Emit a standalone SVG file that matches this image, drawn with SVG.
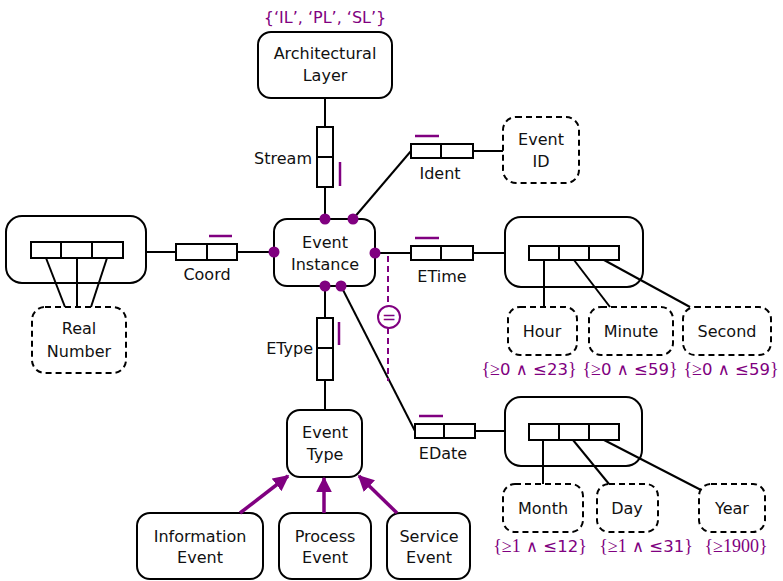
<svg xmlns="http://www.w3.org/2000/svg" width="783" height="581" viewBox="0 0 783 581">
  <style>
    text { font-family: "DejaVu Sans", Verdana, sans-serif; font-size: 16px; fill: #111; text-anchor: middle; }
    .cons { fill: #800080; font-size: 16px; }
    .rng { fill: #800080; font-size: 16.5px; }
    .serif { font-family: "Liberation Serif", serif; font-size: 18px; }
    .ent { fill: #fff; stroke: #000; stroke-width: 2; }
    .val { fill: #fff; stroke: #000; stroke-width: 2; stroke-dasharray: 6 4; }
    .role { fill: #fff; stroke: #000; stroke-width: 2; }
    .ln { stroke: #000; stroke-width: 2; fill: none; }
    .uc { stroke: #800080; stroke-width: 2.5; }
    .dot { fill: #800080; }
    .sub { stroke: #800080; stroke-width: 3.5; fill: none; }
  </style>
  <defs>
    <marker id="subArrow" viewBox="0 0 10 10" refX="9" refY="5" markerWidth="4.6" markerHeight="4.6" markerUnits="strokeWidth" orient="auto">
      <path d="M0,0 L10,5 L0,10 z" fill="#800080"/>
    </marker>
  </defs>

  <!-- entity types -->
  <g id="architectural-layer">
    <rect class="ent" x="258" y="32" width="134" height="66" rx="13"/>
    <text x="325" y="59">Architectural</text>
    <text x="325" y="81">Layer</text>
    <text x="325" y="23" class="cons">{‘IL’, ‘PL’, ‘SL’}</text>
  </g>

  <g id="event-instance">
    <rect class="ent" x="274" y="219" width="101" height="67" rx="13"/>
    <text x="325" y="248">Event</text>
    <text x="325" y="270">Instance</text>
  </g>

  <g id="event-type">
    <rect class="ent" x="287" y="410" width="75" height="67" rx="13"/>
    <text x="325" y="438">Event</text>
    <text x="325" y="460">Type</text>
  </g>

  <g id="information-event">
    <rect class="ent" x="137" y="513" width="126" height="66" rx="13"/>
    <text x="200" y="542">Information</text>
    <text x="200" y="563">Event</text>
  </g>
  <g id="process-event">
    <rect class="ent" x="279" y="513" width="92" height="66" rx="13"/>
    <text x="325" y="542">Process</text>
    <text x="325" y="563">Event</text>
  </g>
  <g id="service-event">
    <rect class="ent" x="387" y="513" width="83" height="66" rx="13"/>
    <text x="429" y="542">Service</text>
    <text x="429" y="563">Event</text>
  </g>

  <!-- nested composite types -->
  <g id="coordinate">
    <rect class="ent" x="6" y="216" width="140" height="67" rx="16"/>
    <rect class="role" x="31" y="242" width="92" height="16"/>
    <line class="ln" x1="61" y1="242" x2="61" y2="258"/>
    <line class="ln" x1="92" y1="242" x2="92" y2="258"/>
  </g>
  <g id="time">
    <rect class="ent" x="505" y="217" width="138" height="70" rx="16"/>
    <rect class="role" x="529" y="246" width="90" height="14"/>
    <line class="ln" x1="559" y1="246" x2="559" y2="260"/>
    <line class="ln" x1="589" y1="246" x2="589" y2="260"/>
  </g>
  <g id="date">
    <rect class="ent" x="505" y="397" width="137" height="69" rx="16"/>
    <rect class="role" x="529" y="424" width="90" height="16"/>
    <line class="ln" x1="559" y1="424" x2="559" y2="440"/>
    <line class="ln" x1="589" y1="424" x2="589" y2="440"/>
  </g>

  <!-- value types -->
  <g id="event-id">
    <rect class="val" x="503" y="117" width="76" height="66" rx="13"/>
    <text x="541" y="145">Event</text>
    <text x="541" y="167">ID</text>
  </g>
  <g id="real-number">
    <rect class="val" x="32" y="307" width="94" height="66" rx="13"/>
    <text x="79" y="334">Real</text>
    <text x="79" y="357">Number</text>
  </g>
  <g id="hour">
    <rect class="val" x="508" y="307" width="69" height="48" rx="12"/>
    <text x="542" y="337">Hour</text>
    <text x="529" y="375" class="rng"><tspan class="serif">{≥</tspan>0 ∧ ≤23<tspan class="serif">}</tspan></text>
  </g>
  <g id="minute">
    <rect class="val" x="589" y="307" width="84" height="48" rx="12"/>
    <text x="631" y="337">Minute</text>
    <text x="630" y="375" class="rng"><tspan class="serif">{≥</tspan>0 ∧ ≤59<tspan class="serif">}</tspan></text>
  </g>
  <g id="second">
    <rect class="val" x="683" y="307" width="88" height="48" rx="12"/>
    <text x="727" y="337">Second</text>
    <text x="731" y="375" class="rng"><tspan class="serif">{≥</tspan>0 ∧ ≤59<tspan class="serif">}</tspan></text>
  </g>
  <g id="month">
    <rect class="val" x="503" y="484" width="80" height="48" rx="12"/>
    <text x="543" y="514">Month</text>
    <text x="540" y="552" class="rng"><tspan class="serif">{≥1</tspan> ∧ ≤12<tspan class="serif">}</tspan></text>
  </g>
  <g id="day">
    <rect class="val" x="597" y="484" width="61" height="48" rx="12"/>
    <text x="627" y="514">Day</text>
    <text x="646" y="552" class="rng"><tspan class="serif">{≥1</tspan> ∧ ≤31<tspan class="serif">}</tspan></text>
  </g>
  <g id="year">
    <rect class="val" x="699" y="484" width="66" height="48" rx="12"/>
    <text x="732" y="514">Year</text>
    <text x="736" y="552" class="rng serif">{≥1900}</text>
  </g>

  <!-- fact types (role boxes) -->
  <g id="fact-stream">
    <rect class="role" x="317" y="127" width="16" height="60"/>
    <line class="ln" x1="317" y1="157" x2="333" y2="157"/>
    <line class="uc" x1="340" y1="162" x2="340" y2="186"/>
    <text x="312" y="164" style="text-anchor:end">Stream</text>
  </g>
  <g id="fact-ident">
    <rect class="role" x="411" y="144" width="62" height="14"/>
    <line class="ln" x1="441" y1="144" x2="441" y2="158"/>
    <line class="uc" x1="415" y1="136" x2="439" y2="136"/>
    <text x="440" y="179">Ident</text>
  </g>
  <g id="fact-coord">
    <rect class="role" x="176" y="244" width="61" height="16"/>
    <line class="ln" x1="207" y1="244" x2="207" y2="260"/>
    <line class="uc" x1="209" y1="236" x2="232" y2="236"/>
    <text x="207" y="280">Coord</text>
  </g>
  <g id="fact-etime">
    <rect class="role" x="411" y="246" width="62" height="14"/>
    <line class="ln" x1="441" y1="246" x2="441" y2="260"/>
    <line class="uc" x1="415" y1="238" x2="439" y2="238"/>
    <text x="442" y="282">ETime</text>
  </g>
  <g id="fact-etype">
    <rect class="role" x="317" y="318" width="16" height="62"/>
    <line class="ln" x1="317" y1="348" x2="333" y2="348"/>
    <line class="uc" x1="339" y1="322" x2="339" y2="345"/>
    <text x="313" y="354" style="text-anchor:end">EType</text>
  </g>
  <g id="fact-edate">
    <rect class="role" x="415" y="424" width="60" height="14"/>
    <line class="ln" x1="444" y1="424" x2="444" y2="438"/>
    <line class="uc" x1="419" y1="416" x2="443" y2="416"/>
    <text x="443" y="459">EDate</text>
  </g>

  <!-- connectors, drawn over the composite boxes -->
  <g id="connectors">
    <line class="ln" x1="325" y1="98" x2="325" y2="127"/>
    <line class="ln" x1="325" y1="187" x2="325" y2="219"/>
    <line class="ln" x1="353" y1="219" x2="411" y2="151"/>
    <line class="ln" x1="473" y1="151" x2="503" y2="151"/>
    <line class="ln" x1="146" y1="252" x2="176" y2="252"/>
    <line class="ln" x1="237" y1="252" x2="274" y2="252"/>
    <line class="ln" x1="375" y1="253" x2="411" y2="253"/>
    <line class="ln" x1="473" y1="253" x2="505" y2="253"/>
    <line class="ln" x1="325" y1="286" x2="325" y2="318"/>
    <line class="ln" x1="325" y1="380" x2="325" y2="410"/>
    <line class="ln" x1="341" y1="286" x2="415" y2="431"/>
    <line class="ln" x1="475" y1="431" x2="505" y2="431"/>
    <!-- coordinate roles to Real Number -->
    <line class="ln" x1="46" y1="258" x2="65" y2="307"/>
    <line class="ln" x1="77" y1="258" x2="77" y2="307"/>
    <line class="ln" x1="107" y1="258" x2="91" y2="307"/>
    <!-- time roles -->
    <line class="ln" x1="544" y1="260" x2="544" y2="307"/>
    <line class="ln" x1="574" y1="260" x2="610" y2="307"/>
    <line class="ln" x1="604" y1="260" x2="690" y2="307"/>
    <!-- date roles -->
    <line class="ln" x1="543" y1="440" x2="543" y2="484"/>
    <line class="ln" x1="573" y1="440" x2="609" y2="484"/>
    <line class="ln" x1="604" y1="440" x2="701" y2="490"/>
    <!-- equality constraint -->
    <line x1="388" y1="256" x2="388" y2="306" stroke="#800080" stroke-width="2" stroke-dasharray="6 4"/>
    <line x1="388" y1="328" x2="388" y2="381" stroke="#800080" stroke-width="2" stroke-dasharray="6 4"/>
    <circle cx="389" cy="317" r="11" fill="#fff" stroke="#800080" stroke-width="2"/>
    <text x="389" y="323" class="cons" style="font-size:17px">=</text>
    <!-- subtype arrows -->
    <line class="sub" x1="240" y1="513" x2="288" y2="476" marker-end="url(#subArrow)"/>
    <line class="sub" x1="324" y1="513" x2="324" y2="478" marker-end="url(#subArrow)"/>
    <line class="sub" x1="397" y1="513" x2="359" y2="476" marker-end="url(#subArrow)"/>
    <!-- role attachment dots on Event Instance -->
    <circle class="dot" cx="325" cy="219" r="5.5"/>
    <circle class="dot" cx="353" cy="219" r="5.5"/>
    <circle class="dot" cx="274" cy="252" r="5.5"/>
    <circle class="dot" cx="375" cy="253" r="5.5"/>
    <circle class="dot" cx="325" cy="286" r="5.5"/>
    <circle class="dot" cx="341" cy="286" r="5.5"/>
  </g>
</svg>
